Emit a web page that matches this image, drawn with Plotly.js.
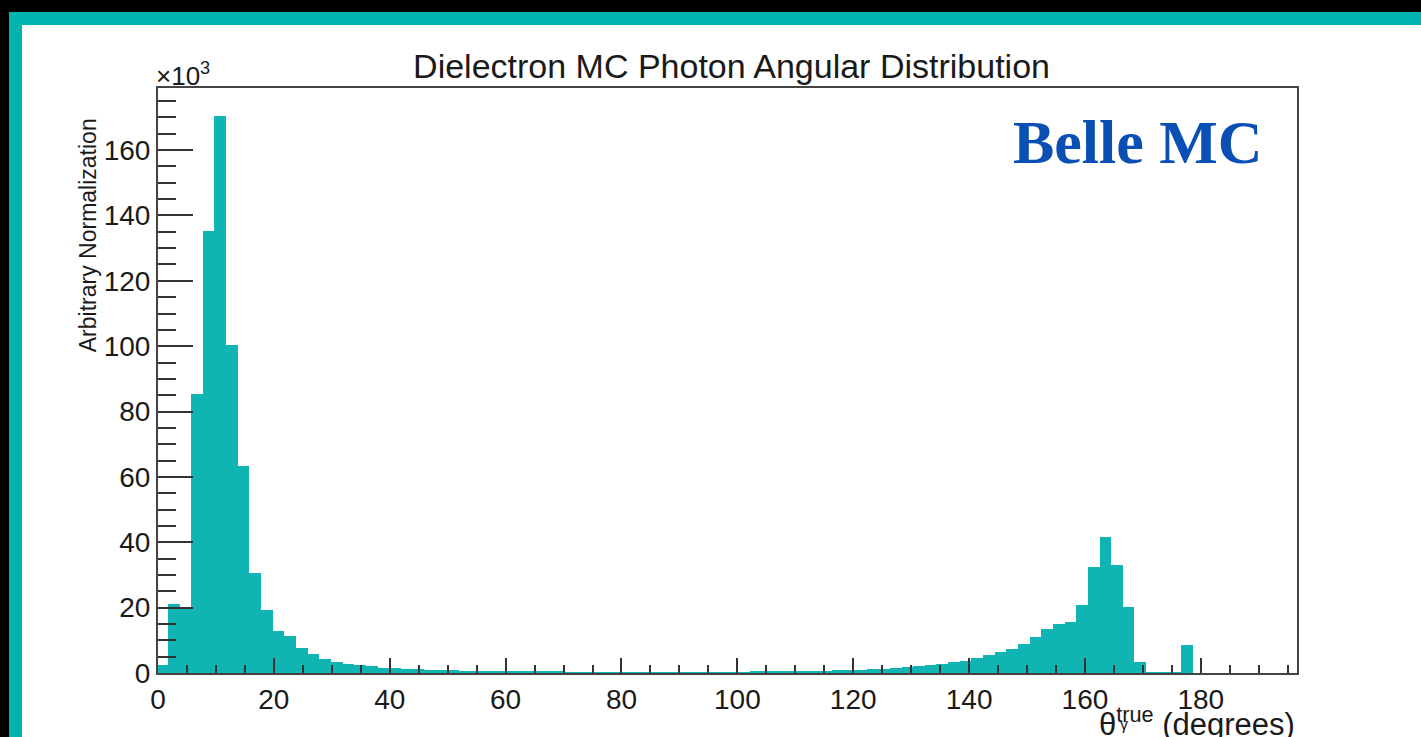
<!DOCTYPE html>
<html>
<head>
<meta charset="utf-8">
<script src="https://cdn.plot.ly/plotly-3.0.1.min.js"></script>
<style>
  html, body { margin: 0; padding: 0; width: 1421px; height: 737px; overflow: hidden; background: #000; }
  #frame { position: absolute; left: 9px; top: 12px; right: 0; bottom: 0; background: #00b4b0; }
  #panel { position: absolute; left: 22px; top: 25px; right: 0; bottom: 0; background: #ffffff; }
  #chart { position: absolute; left: 0; top: 0; width: 1421px; height: 737px; }
</style>
</head>
<body>
<div id="frame"></div>
<div id="panel"></div>
<div id="chart"></div>
<script>
// Histogram binning (degrees)
const binStart = -0.3;
const binWidth = 2.01;
// Bin contents (x10^3), one per bin starting at binStart
const counts = [
  2.6, 21.2, 19.8, 85.4, 135.1, 170.3, 100.4, 63.3, 30.7, 19.2,
  12.9, 11.2, 7.5, 5.9, 4.4, 3.4, 2.9, 2.4, 2.0, 1.6,
  1.4, 1.2, 1.1, 0.9, 0.8, 0.8, 0.7, 0.6, 0.6, 0.5,
  0.5, 0.5, 0.5, 0.5, 0.5, 0.4, 0.4, 0.4, 0.4, 0.4,
  0.4, 0.4, 0.4, 0.4, 0.4, 0.4, 0.4, 0.4, 0.4, 0.4,
  0.4, 0.5, 0.5, 0.5, 0.6, 0.6, 0.7, 0.7, 0.8, 0.9,
  1.0, 1.1, 1.3, 1.5, 1.8, 2.2, 2.5, 2.8, 3.3, 3.8,
  4.6, 5.6, 6.4, 7.3, 8.8, 11.0, 13.6, 14.9, 15.6, 20.7,
  32.5, 41.7, 33.0, 20.1, 3.3, 0.3, 0.3, 0.4, 8.5, 0
];
const xTickVals = [0, 20, 40, 60, 80, 100, 120, 140, 160, 180];
const yTickVals = [0, 20, 40, 60, 80, 100, 120, 140, 160];

const binCenters = counts.map((_, i) => binStart + (i + 0.5) * binWidth);

const axisFont = { family: 'Liberation Sans, Arial, sans-serif', size: 28, color: '#1a1a1a' };

const trace = {
  type: 'bar',
  x: binCenters,
  y: counts,
  width: binWidth,
  marker: { color: '#10b4b2', line: { width: 0 } },
  hoverinfo: 'x+y'
};

const layout = {
  width: 1421,
  height: 737,
  paper_bgcolor: 'rgba(0,0,0,0)',
  plot_bgcolor: '#ffffff',
  margin: { l: 158, r: 124, t: 88, b: 64, pad: 0 },
  showlegend: false,
  bargap: 0,
  title: {
    text: 'Dielectron MC Photon Angular Distribution',
    font: { family: 'Liberation Sans, Arial, sans-serif', size: 34, color: '#1a1a1a' },
    xref: 'container', yref: 'container',
    x: 0.5148, xanchor: 'center',
    y: 0.91, yanchor: 'middle'
  },
  xaxis: {
    range: [0, 196.6],
    tickvals: xTickVals,
    ticktext: xTickVals.map(String),
    ticks: 'inside', ticklen: 15, tickwidth: 2, tickcolor: '#333',
    minor: { dtick: 5, ticks: 'inside', ticklen: 8, tickwidth: 2, tickcolor: '#333' },
    showline: true, linecolor: '#444', linewidth: 2, mirror: true,
    showgrid: false, zeroline: false,
    tickfont: axisFont,
    layer: 'above traces'
  },
  yaxis: {
    range: [0, 179],
    tickvals: yTickVals,
    ticktext: yTickVals.map(String),
    ticks: 'inside', ticklen: 35, tickwidth: 2, tickcolor: '#333',
    minor: { dtick: 5, ticks: 'inside', ticklen: 18, tickwidth: 2, tickcolor: '#333' },
    showline: true, linecolor: '#444', linewidth: 2, mirror: true,
    showgrid: false, zeroline: false,
    tickfont: axisFont,
    layer: 'above traces'
  },
  annotations: [
    {
      text: '×10<sup>3</sup>',
      xref: 'paper', yref: 'paper', x: 0, y: 1,
      xanchor: 'left', yanchor: 'bottom', xshift: -4, yshift: -5,
      showarrow: false,
      font: { family: 'Liberation Sans, Arial, sans-serif', size: 26, color: '#1a1a1a' }
    },
    {
      text: 'Arbitrary Normalization',
      xref: 'paper', yref: 'paper', x: -0.062, y: 0.749,
      xanchor: 'center', yanchor: 'middle', textangle: -90,
      showarrow: false,
      font: { family: 'Liberation Sans, Arial, sans-serif', size: 23, color: '#1a1a1a' }
    },
    {
      text: 'θ<sup>true</sup> (degrees)',
      xref: 'paper', yref: 'paper', x: 1, y: -0.046,
      xanchor: 'right', yanchor: 'top',
      showarrow: false,
      font: { family: 'Liberation Sans, Arial, sans-serif', size: 31, color: '#1a1a1a' }
    },
    {
      text: 'γ',
      xref: 'paper', yref: 'paper', x: 0.848, y: -0.07,
      xanchor: 'center', yanchor: 'top',
      showarrow: false,
      font: { family: 'Liberation Sans, Arial, sans-serif', size: 16, color: '#1a1a1a' }
    },
    {
      text: '<b>Belle MC</b>',
      xref: 'paper', yref: 'paper', x: 0.9715, y: 0.908,
      xanchor: 'right', yanchor: 'middle',
      showarrow: false,
      font: { family: 'Liberation Serif, DejaVu Serif, serif', size: 62, color: '#0a50b4' }
    }
  ]
};

Plotly.newPlot('chart', [trace], layout, { displayModeBar: false, staticPlot: true });
</script>
</body>
</html>
